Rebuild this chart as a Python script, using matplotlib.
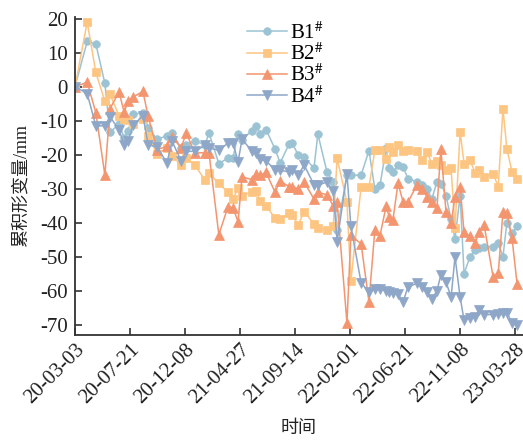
import matplotlib
matplotlib.use("Agg")
import matplotlib.pyplot as plt
import matplotlib.dates as mdates
import matplotlib.transforms as mtransforms
import pandas as pd

# measurement days counted from 2020-03-03
start = "2020-03-03"
days = [0, 31, 53, 76, 89, 112, 125, 135, 148, 173, 186, 209, 234, 247, 270, 283,
        305, 331, 341, 366, 389, 402, 415, 425, 450, 461, 471, 486, 509, 522, 545, 552,
        568, 583, 608, 618, 641, 657, 667, 692, 702, 728, 748, 763, 776, 792, 799, 809,
        822, 835, 847, 870, 883, 896, 908, 921, 931, 944, 957, 967, 980, 990, 1005, 1018,
        1028, 1041, 1064, 1077, 1089, 1099, 1112, 1125]

b1 = [0, 13.3, 12.6, 1.0, -13.4, -11, -15, -13, -8, -7.7, -12, -15.5, -14.4, -13.6, -18, -17,
      -16, -17, -13.6, -22.6, -21, -21, -13.8, -15.6, -12.9, -11.5, -14, -12.6, -18.3, -22.4, -16.8, -16.5,
      -20, -20.6, -24, -13.9, -25, -28, -42, -26, -26, -26, -18.8, -30, -29, -18, -24, -25,
      -23, -23.5, -27, -28, -29, -30, -33, -28, -28.5, -32, -39, -44.7, -32, -55, -50, -48,
      -47.5, -47, -47, -46, -50, -40, -43, -41]
b2 = [0, 19, 4.2, -4.3, -2.2, -8.5, -9.5, -9.8, -11, -9.5, -14.6, -19.7, -18, -20.3, -23, -21,
      -23, -27.5, -25.5, -28.4, -31, -33, -29.8, -32, -30.9, -30.6, -33.7, -35, -38.6, -39, -37, -37.6,
      -40.6, -36.7, -40.3, -41.5, -42, -41, -21, -34, -57, -29.5, -29.5, -18.7, -18.7, -21.3, -17.6, -19.3,
      -17, -19, -18.5, -19, -21.5, -19.3, -22.6, -21.8, -23, -24.4, -24, -41.5, -13.2, -22.6, -21.5, -25.3,
      -24.6, -26.5, -25.6, -29.4, -6.5, -18.3, -25, -27]
b3 = [0, 1.3, -7.6, -26, -6.5, -1.5, -7.5, -4.3, -3, -1.4, -8.7, -18.5, -17.5, -14.7, -18, -13.6,
      -19.5, -19.4, -19.5, -43.5, -35.4, -35.6, -39.7, -26.5, -27.3, -25.7, -26, -25.2, -31, -27.7, -29.4, -29.4,
      -30, -28, -33, -31, -31.8, -35, -34, -69.4, -43.7, -46.2, -63.2, -42.2, -43.8, -35, -38.2, -39.2,
      -28.3, -34, -34, -28.9, -30, -32.3, -34, -35.8, -18.2, -36.8, -40, -32.4, -29.4, -42.8, -44, -46,
      -42.8, -40.6, -56, -54.9, -36.8, -37, -44.5, -58]
b4 = [0, -2, -11.5, -11.5, -8.8, -12.7, -17, -16, -11.3, -8.5, -17, -17.8, -22.4, -16, -21.8, -19,
      -19, -17.2, -18, -18.7, -16.6, -16.6, -22, -15.5, -18.8, -19.4, -21.2, -21.8, -24.4, -24.6, -25, -24.4,
      -26, -23, -28.8, -29, -28, -30.8, -45.6, -25.6, -41, -57.6, -60.4, -59.6, -59.6, -60, -60.3, -60.6,
      -61, -63.2, -58.9, -57.8, -59, -60.3, -62.4, -60, -55.3, -57.3, -61.9, -50, -61.9, -68.6, -68, -67.6,
      -65.6, -67, -67, -66.8, -66.5, -66.5, -69.4, -70]

labels = ["B1$^{\\#}$", "B2$^{\\#}$", "B3$^{\\#}$", "B4$^{\\#}$"]
colors = ["#9CC3D3", "#FDC582", "#F3956F", "#8EA7C8"]
markers = ["o", "s", "^", "v"]

plt.rcParams["font.family"] = ["Liberation Serif", "Noto Sans CJK SC"]
plt.rcParams["mathtext.fontset"] = "stix"
plt.rcParams["axes.unicode_minus"] = False

t0 = pd.Timestamp(start)
x = t0 + pd.to_timedelta(days, unit="D")

fig = plt.figure(figsize=(5.23, 4.40), dpi=100)
ax = fig.add_axes([75 / 523, 105 / 440, 448 / 523, 318 / 440])

for vals, lab, c, m in zip([b1, b2, b3, b4], labels, colors, markers):
    ms = 6.5 if m in ("^", "v") else 5.5
    ax.plot(x, vals, color=c, marker=m, markersize=ms, linewidth=1.1,
            markeredgecolor=c, markeredgewidth=0.5, label=lab)

ax.set_xlim(t0, t0 + pd.Timedelta(days=1140))
ax.set_ylim(-73, 20.5)
ax.set_yticks(range(-70, 21, 10))

ticks = pd.date_range(start, periods=9, freq="140D")
ax.set_xticks(ticks)
ax.xaxis.set_major_formatter(mdates.DateFormatter("%y-%m-%d"))
offset = mtransforms.ScaledTranslation(13 / 100, -3 / 100, fig.dpi_scale_trans)
for lbl in ax.get_xticklabels():
    lbl.set_rotation(45)
    lbl.set_ha("right")
    lbl.set_va("top")
    lbl.set_rotation_mode("anchor")
    lbl.set_transform(lbl.get_transform() + offset)

ax.tick_params(direction="in", length=5, width=1.2, colors="#333333",
               labelsize=15, labelcolor="#222222")
ax.tick_params(axis="y", pad=5)
for side in ("top", "right"):
    ax.spines[side].set_visible(False)
for side in ("left", "bottom"):
    ax.spines[side].set_color("#333333")
    ax.spines[side].set_linewidth(1.3)

ax.set_xlabel("时间", fontsize=13, color="#222222", labelpad=9)
ax.set_ylabel("累积形变量/mm", fontsize=13, color="#222222")
ax.yaxis.set_label_coords(-0.102, 0.47)

ax.legend(loc="upper left", bbox_to_anchor=((247 - 75) / 448, (335 - 22) / 318),
          frameon=False, fontsize=15, handlelength=1.9, handletextpad=0.15,
          labelspacing=0.0, borderpad=0, borderaxespad=0)

fig.savefig("out.png", dpi=100)
